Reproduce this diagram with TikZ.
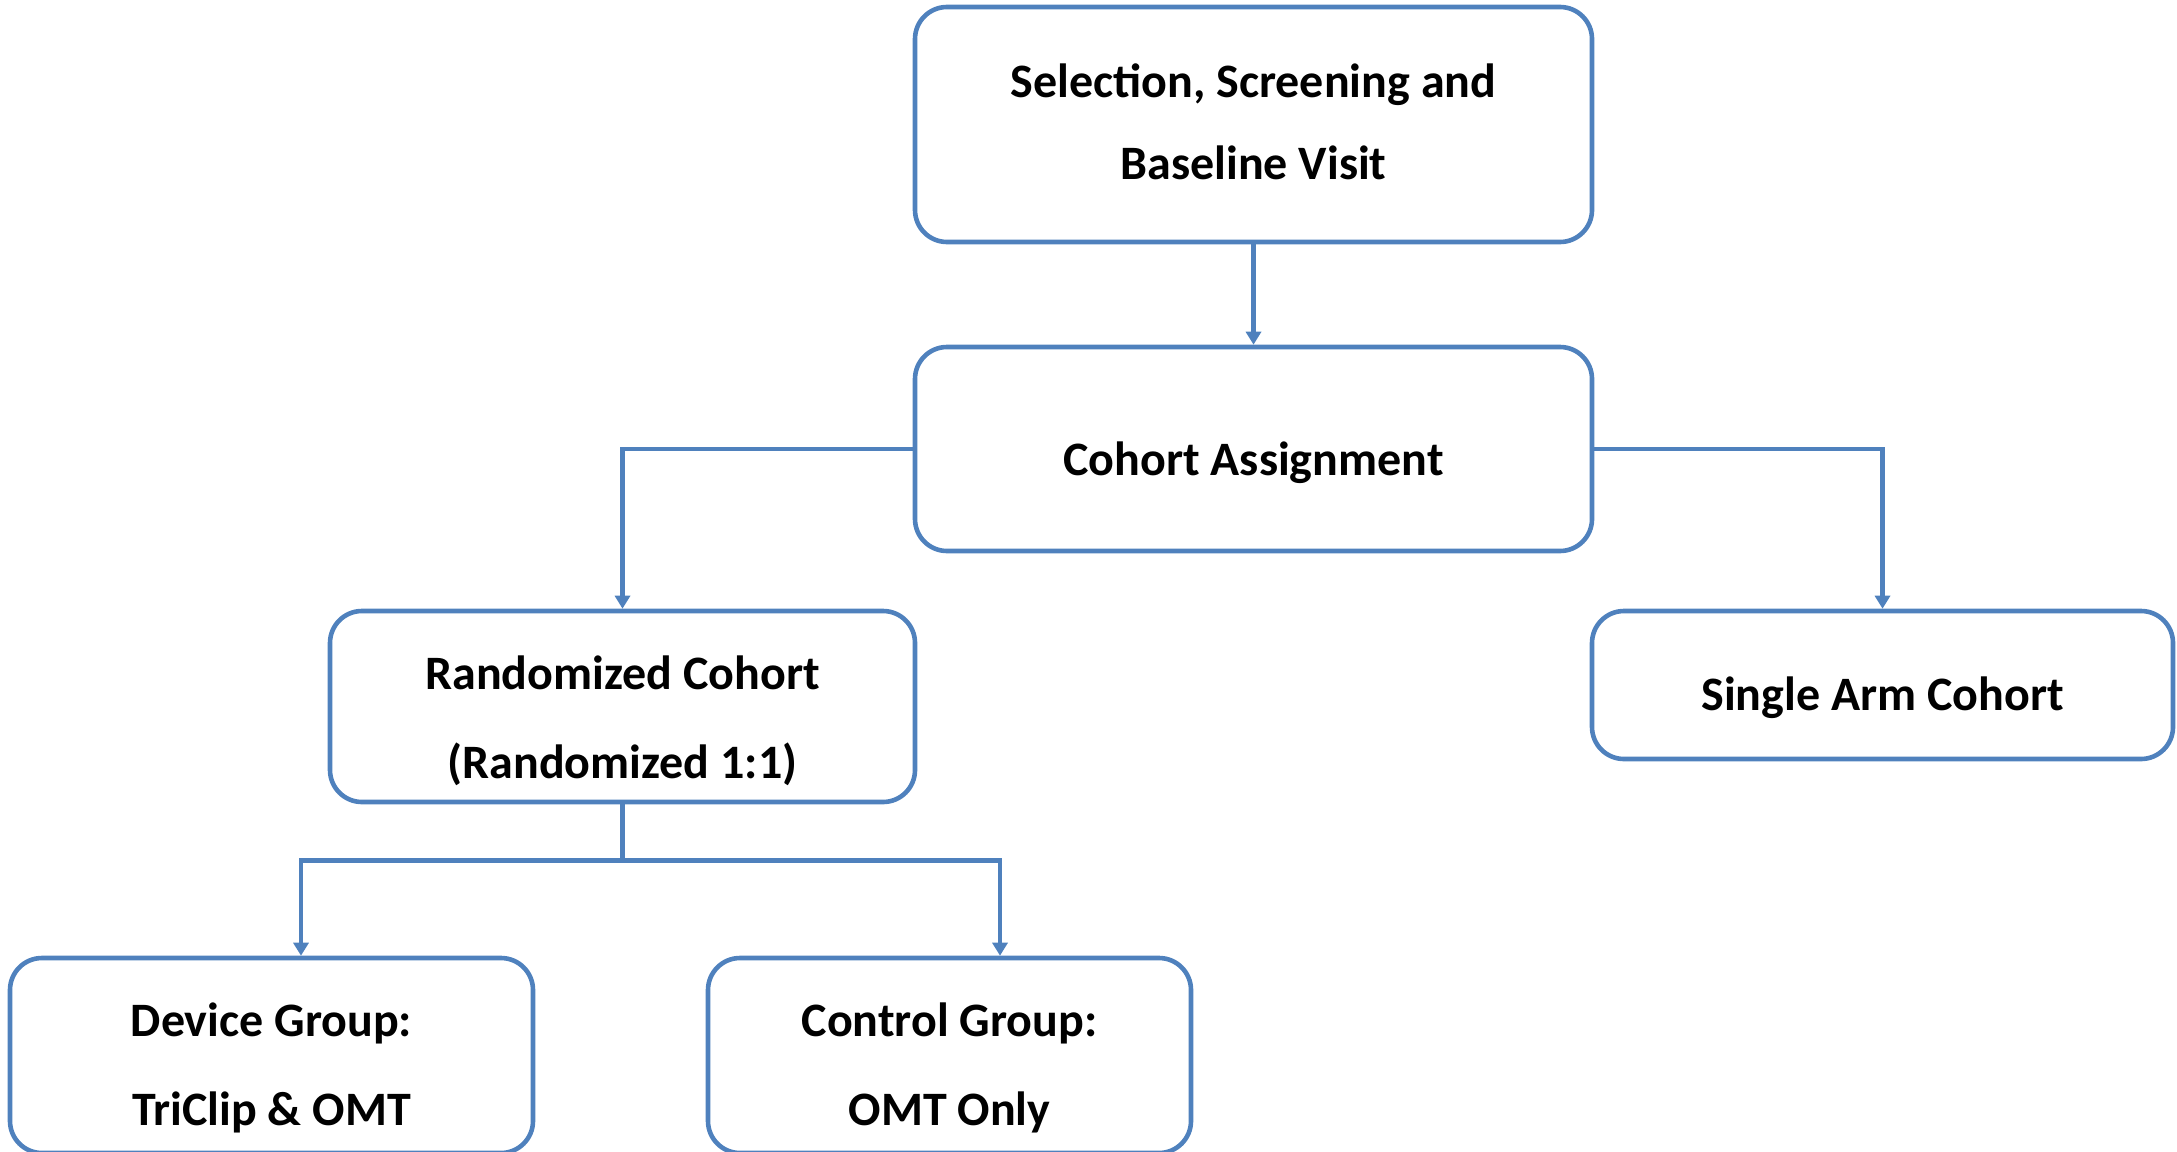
\documentclass[tikz,border=0pt]{standalone}
\usepackage{fontspec}
\setmainfont{Carlito}
\usetikzlibrary{arrows.meta}
\definecolor{flowblue}{HTML}{4F81BD}
\tikzset{
  box/.style={draw=flowblue, line width=2.3pt, rounded corners=16pt, fill=white,
    inner sep=0pt},
  txt/.style={align=center, inner sep=0pt, font=\fontsize{24}{29}\selectfont\bfseries},
  link/.style={draw=flowblue, line width=2.3pt},
  arr/.style={link, -{Triangle[width=7.5pt,length=6.5pt]}}
}
\begin{document}
\begin{tikzpicture}[x=0.5pt,y=-0.5pt]
\useasboundingbox (0,0) rectangle (2177,1151);

% boxes
\node[box, minimum width=338.5pt, minimum height=117.5pt] (sel) at (1253.5,124.5) {};
\node[box, minimum width=338.5pt, minimum height=102pt] (coh) at (1253.5,449) {};
\node[box, minimum width=292.5pt, minimum height=95.5pt] (rnd) at (622.5,706.5) {};
\node[box, minimum width=290.5pt, minimum height=74pt] (sgl) at (1882.5,685) {};
\node[box, minimum width=261.5pt, minimum height=97.5pt] (dev) at (271.5,1055.5) {};
\node[box, minimum width=241.5pt, minimum height=97.5pt] (ctl) at (949.5,1055.5) {};

% box labels
\node[txt] (selT) at (1253.5,121.5) {Selection, Screening and\\[12pt]Baseline Visit};
\node[txt] (cohT) at (1253.5,462.5) {Cohort Assignment};
\node[txt] (rndT) at (622.5,720.5) {Randomized Cohort\\[15.5pt](Randomized 1:1)};
\node[txt] (sglT) at (1882.5,698) {Single Arm Cohort};
\node[txt] (devT) at (271.5,1068) {Device Group:\\[15.5pt]TriClip \& OMT};
\node[txt] (ctlT) at (949.5,1068) {Control Group:\\[15.5pt]OMT Only};

% connectors
\draw[arr] (sel.south) -- (coh.north);
\draw[arr] (coh.west) -| (rnd.north);
\draw[arr] (coh.east) -| (sgl.north);

\coordinate (split) at ([yshift=-28pt]rnd.south);
\coordinate (devin) at ([xshift=14.75pt]dev.north);
\coordinate (ctlin) at ([xshift=25.25pt]ctl.north);
\draw[link] (rnd.south) -- (split);
\draw[arr] (split) -| (devin);
\draw[arr] (split) -| (ctlin);
\end{tikzpicture}
\end{document}
